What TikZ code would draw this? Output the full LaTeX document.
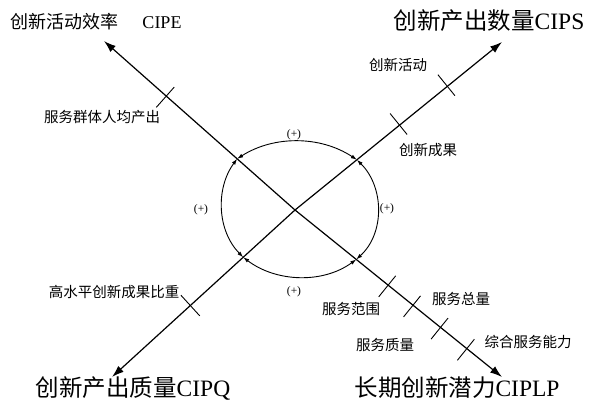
\documentclass[tikz,border=0pt]{standalone}
\usepackage{fontspec}
\setmainfont{Liberation Serif}
\newfontfamily\cjk{Noto Sans CJK SC}
\usetikzlibrary{arrows.meta,calc}
\begin{document}
\begin{tikzpicture}[x=1pt,y=-1pt,
  mainarrow/.style={line width=1.2pt,-{Latex[length=12pt,width=8pt]}},
  looparrow/.style={line width=0.9pt,{Latex[length=6pt,width=4pt]}-{Latex[length=6pt,width=4pt]}},
  tickmark/.style={line width=0.9pt},
  biglab/.style={font=\fontsize{23.5}{28}\selectfont,inner sep=0pt},
  midlab/.style={font=\fontsize{18}{22}\selectfont,inner sep=0pt},
  smalllab/.style={font=\cjk\fontsize{14.5}{18}\selectfont,inner sep=0pt},
  pluslab/.style={font=\fontsize{11.5}{13}\selectfont,inner sep=0pt}]
\useasboundingbox (0,0) rectangle (589,402);
% centre and arrow tips
\coordinate (o) at (295,210);
\coordinate (E) at (104,41);
\coordinate (S) at (502,42);
\coordinate (Q) at (112,377);
\coordinate (P) at (502,377);
\draw[mainarrow] (o) -- (E);
\draw[mainarrow] (o) -- (S);
\draw[mainarrow] (o) -- (Q);
\draw[mainarrow] (o) -- (P);
% big labels
\node[midlab] (lE) at (96,22) {{\cjk 创新活动效率}\hspace{24pt}CIPE};
\node[biglab] (lS) at (489,21) {{\cjk 创新产出数量}CIPS};
\node[biglab] (lQ) at (133,388) {{\cjk 创新产出质量}CIPQ};
\node[biglab] (lP) at (457,388) {{\cjk 长期创新潜力}CIPLP};
% loop
\coordinate (tl) at ($(o)!0.303!(E)$);
\coordinate (tr) at ($(o)!0.299!(S)$);
\coordinate (bl) at ($(o)!0.283!(Q)$);
\coordinate (br) at ($(o)!0.296!(P)$);
\draw[looparrow] (tl) .. controls +(36.8,-23.5) and +(-36.4,-24.1) .. (tr);
\draw[looparrow] (tl) .. controls +(-21.9,29.9) and +(-25.9,-26.4) .. (bl);
\draw[looparrow] (tr) .. controls +(27.5,27.2) and +(28.6,-26.1) .. (br);
\draw[looparrow] (bl) .. controls +(33,25) and +(-33.4,24.4) .. (br);
\node[pluslab] (p1) at (294,135) {(+)};
\node[pluslab] (p2) at (201,210) {(+)};
\node[pluslab] (p3) at (387,209) {(+)};
\node[pluslab] (p4) at (294,292) {(+)};
% ticks on line to E
\coordinate (a1) at ($(o)!0.674!(E)$);
\draw[tickmark] ($(a1)!15pt!90:(E)$) -- ($(a1)!12pt!-90:(E)$);
% ticks on line to S
\coordinate (b1) at ($(o)!0.736!(S)$);
\coordinate (b2) at ($(o)!0.505!(S)$);
\draw[tickmark] ($(b1)!15pt!90:(S)$) -- ($(b1)!12pt!-90:(S)$);
\draw[tickmark] ($(b2)!15pt!90:(S)$) -- ($(b2)!12pt!-90:(S)$);
% tick on line to Q
\coordinate (c1) at ($(o)!0.572!(Q)$);
\draw[tickmark] ($(c1)!14pt!90:(Q)$) -- ($(c1)!14pt!-90:(Q)$);
% ticks on line to P
\coordinate (d1) at ($(o)!0.45!(P)$);
\coordinate (d2) at ($(o)!0.57!(P)$);
\coordinate (d3) at ($(o)!0.703!(P)$);
\coordinate (d4) at ($(o)!0.83!(P)$);
\foreach \d in {d1,d2,d3,d4}
  \draw[tickmark] ($(\d)!15pt!-90:(P)$) -- ($(\d)!12pt!90:(P)$);
% small labels
\node[smalllab] (s1) at (102,117) {服务群体人均产出};
\node[smalllab] (s2) at (398,65) {创新活动};
\node[smalllab] (s3) at (428,150) {创新成果};
\node[smalllab] (s4) at (114,292) {高水平创新成果比重};
\node[smalllab] (s5) at (351,309) {服务范围};
\node[smalllab] (s6) at (461,299) {服务总量};
\node[smalllab] (s7) at (385,345) {服务质量};
\node[smalllab] (s8) at (528,342) {综合服务能力};
\end{tikzpicture}
\end{document}
